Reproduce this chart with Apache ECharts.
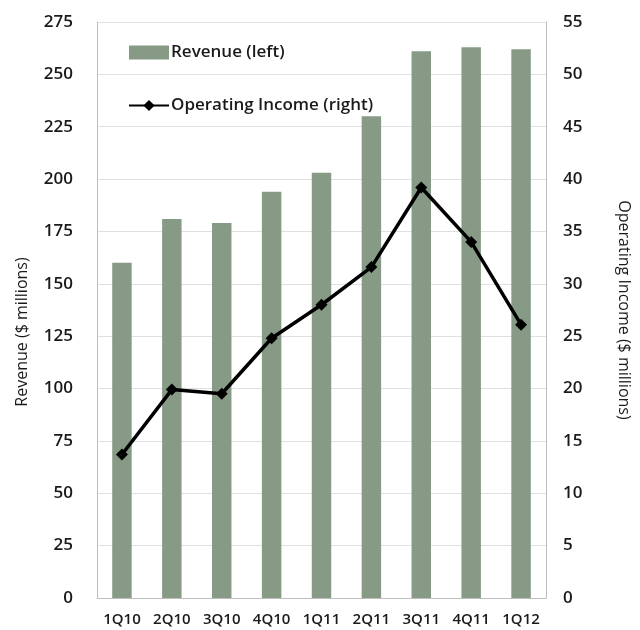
<!DOCTYPE html>
<html>
<head>
<meta charset="utf-8">
<script src="https://cdn.jsdelivr.net/npm/echarts@6/dist/echarts.min.js"></script>
<style>
  html, body { margin: 0; padding: 0; background: #fff; }
  #chart { width: 640px; height: 630px; }
</style>
</head>
<body>
<div id="chart"></div>
<script>
// Quarterly results, $ millions
const quarters = ['1Q10', '2Q10', '3Q10', '4Q10', '1Q11', '2Q11', '3Q11', '4Q11', '1Q12'];
const revenue = [160, 181, 179, 194, 203, 230, 261, 263, 262];
const operatingIncome = [13.7, 19.9, 19.5, 24.8, 28.0, 31.6, 39.2, 34.0, 26.1];

const FONT = '"Open Sans", "DejaVu Sans", sans-serif';
const TEXT = '#1a1a1a';

const chart = echarts.init(document.getElementById('chart'));
chart.setOption({
  animation: false,
  backgroundColor: '#ffffff',
  grid: { left: 97, right: 80, top: 22, bottom: 32 },
  legend: {
    orient: 'vertical',
    left: 123,
    top: 39,
    itemWidth: 40,
    itemHeight: 14,
    itemGap: 36,
    textStyle: { fontFamily: FONT, fontSize: 17, fontWeight: 600, color: TEXT, padding: [0, 0, 0, -3] },
    data: [
      { name: 'Revenue (left)', icon: 'rect' },
      { name: 'Operating Income (right)' }
    ]
  },
  xAxis: {
    type: 'category',
    data: quarters,
    axisTick: { show: false },
    axisLine: { lineStyle: { color: '#bfbfbf', width: 1 } },
    axisLabel: { fontFamily: FONT, fontSize: 15, fontWeight: 600, color: TEXT, margin: 14 }
  },
  yAxis: [
    {
      type: 'value',
      min: 0, max: 275, interval: 25,
      name: 'Revenue ($ millions)',
      nameLocation: 'middle',
      nameGap: 67,
      nameTextStyle: { fontFamily: FONT, fontSize: 16, color: TEXT, padding: [0, 44, 0, 0] },
      axisLine: { show: true, lineStyle: { color: '#bfbfbf', width: 1 } },
      axisTick: { show: false },
      splitLine: { lineStyle: { color: '#e0e0e0', width: 1 } },
      axisLabel: { fontFamily: FONT, fontSize: 17, fontWeight: 600, color: TEXT, margin: 24 }
    },
    {
      type: 'value',
      min: 0, max: 55, interval: 5,
      name: 'Operating Income ($ millions)',
      nameLocation: 'middle',
      nameRotate: -90,
      nameGap: 70,
      nameTextStyle: { fontFamily: FONT, fontSize: 16, color: TEXT },
      axisLine: { show: true, lineStyle: { color: '#bfbfbf', width: 1 } },
      axisTick: { show: false },
      splitLine: { show: false },
      axisLabel: { fontFamily: FONT, fontSize: 17, fontWeight: 600, color: TEXT, margin: 17 }
    }
  ],
  series: [
    {
      name: 'Revenue (left)',
      type: 'bar',
      yAxisIndex: 0,
      data: revenue,
      barWidth: '39%',
      itemStyle: { color: '#869a86' }
    },
    {
      name: 'Operating Income (right)',
      type: 'line',
      yAxisIndex: 1,
      data: operatingIncome,
      symbol: 'diamond',
      symbolSize: 12,
      lineStyle: { color: '#000', width: 3.5 },
      itemStyle: { color: '#000' }
    }
  ]
});
</script>
</body>
</html>
